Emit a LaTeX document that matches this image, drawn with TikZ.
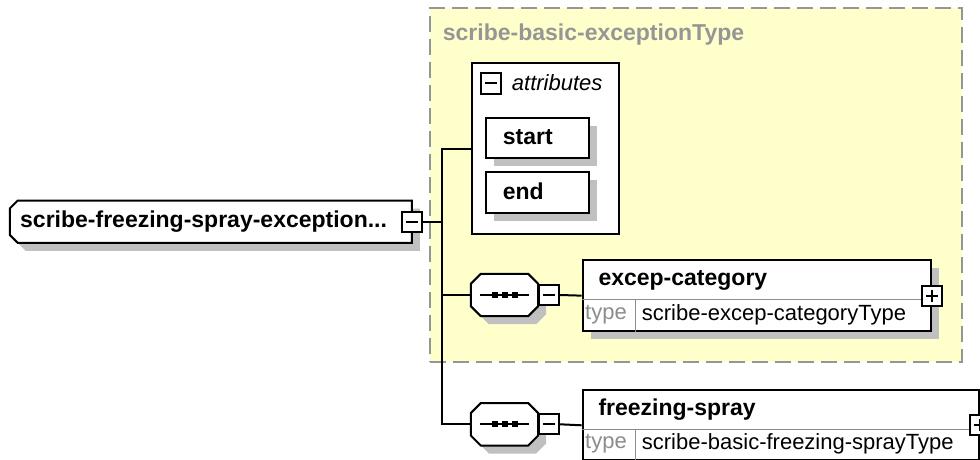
\documentclass[tikz,border=0pt]{standalone}
\usepackage{fontspec}
\setmainfont{Liberation Sans}
\usetikzlibrary{positioning,shadows}
\definecolor{boxfill}{RGB}{255,255,204}
\definecolor{framegray}{RGB}{150,150,150}
\definecolor{typegray}{RGB}{140,140,140}
\definecolor{shadegray}{RGB}{192,192,192}

\begin{document}
\begin{tikzpicture}[x=1pt,y=-1pt,line join=miter,
  wire/.style={line width=2pt},
  shade/.style={drop shadow={shadow xshift=8pt,shadow yshift=-8pt,fill=shadegray,opacity=1}},
  elembox/.style={draw,line width=2pt,fill=white,inner sep=0pt,shade},
  seqbox/.style={inner sep=0pt,minimum width=67pt,minimum height=42pt},
  toggle/.style={draw,fill=white,line width=2pt,minimum size=20pt,inner sep=0pt,path picture={\draw[line width=2pt] ([xshift=4pt]path picture bounding box.west) -- ([xshift=-4pt]path picture bounding box.east);}},
  expand/.style={toggle,path picture={\draw[line width=2pt] ([xshift=4pt]path picture bounding box.west) -- ([xshift=-4pt]path picture bounding box.east) ([yshift=4pt]path picture bounding box.south) -- ([yshift=-4pt]path picture bounding box.north);}},
  boldtext/.style={font=\fontsize{23}{27}\selectfont\bfseries,inner sep=0pt,anchor=west},
  plaintext/.style={font=\fontsize{22}{26}\selectfont,inner sep=0pt,anchor=west},
  typeline/.style={draw=typegray,line width=1.3pt}]
  \useasboundingbox (0,0) rectangle (980,460);
  % complex type frame
  \node[draw=framegray,line width=2pt,dash pattern=on 16pt off 7pt,fill=boxfill,minimum width=532pt,minimum height=354pt,anchor=north west] (basictype) at (429,7) {};
  \node[boldtext,text=framegray] (basictitle) at (442.7,35) {scribe-basic-exceptionType};
  % root element
  \node[inner sep=0pt,minimum width=401.7pt,minimum height=42pt] (root) at (210.85,221.7) {};
  \draw[wire,fill=white,shade] ([xshift=8pt]root.north west) -- (root.north east) -- (root.south east)
    -- ([xshift=8pt]root.south west) -- ([yshift=8pt]root.south west) -- ([yshift=-8pt]root.north west) -- cycle;
  \node[boldtext] (rootname) at (20,222) {scribe-freezing-spray-exception...};
  \node[toggle] (rootminus) at (411.7,221.7) {};
  % attributes
  \node[draw,line width=2pt,fill=white,minimum width=146.7pt,minimum height=171pt,anchor=north west] (attrs) at (471,62.3) {};
  \node[toggle] (attrsminus) at (491,83.5) {};
  \node[plaintext,font=\fontsize{22}{26}\selectfont\itshape] (attrslabel) at (511.7,83) {attributes};
  \node[elembox,minimum width=102.7pt,minimum height=40.6pt,anchor=north west] (startattr) at (485,116.7) {};
  \node[boldtext] (startname) at (502.7,137) {start};
  \node[elembox,minimum width=102.7pt,minimum height=40.6pt,anchor=north west] (endattr) at (485,171) {};
  \node[boldtext] (endname) at (502.7,191.3) {end};
  % sequences
  \node[seqbox] (seqexcep) at (504.5,295) {};
  \node[seqbox] (seqfreeze) at (504.5,424.3) {};
  \foreach \s in {seqexcep,seqfreeze} {
    \draw[wire,fill=white,shade] ([xshift=10pt]\s.north west) -- ([xshift=-10pt]\s.north east)
      -- ([yshift=-10pt]\s.north east) -- ([yshift=10pt]\s.south east) -- ([xshift=-10pt]\s.south east)
      -- ([xshift=10pt]\s.south west) -- ([yshift=10pt]\s.south west) -- ([yshift=-10pt]\s.north west) -- cycle;
    \draw[wire] ([xshift=9pt]\s.west) -- ([xshift=-9pt]\s.east);
    \foreach \dx in {-10,0,10}
      \fill ([xshift=\dx pt]\s.center) +(-3pt,-3pt) rectangle +(3pt,3pt);
  }
  \node[toggle] (seqexcepminus) at (549,295) {};
  \node[toggle] (seqfreezeminus) at (549,424.3) {};
  % child elements
  \node[elembox,minimum width=348.3pt,minimum height=70.7pt,anchor=north west] (excep) at (581.7,259.3) {};
  \draw[typeline] ([yshift=-40pt]excep.north west) -- ([yshift=-40pt]excep.north east);
  \draw[typeline] ([xshift=54pt,yshift=-40pt]excep.north west) -- ([xshift=54pt]excep.south west);
  \node[boldtext] (excepname) at (598.3,280) {excep-category};
  \node[plaintext,text=typegray] (exceptypelabel) at (585,315) {type};
  \node[plaintext] (exceptype) at (641.7,315) {scribe-excep-categoryType};
  \node[expand] (excepplus) at (excep.east) {};
  \node[elembox,minimum width=396pt,minimum height=70pt,anchor=north west] (freeze) at (581.7,389.3) {};
  \draw[typeline] ([yshift=-40pt]freeze.north west) -- ([yshift=-40pt]freeze.north east);
  \draw[typeline] ([xshift=54pt,yshift=-40pt]freeze.north west) -- ([xshift=54pt]freeze.south west);
  \node[boldtext] (freezename) at (598.3,410) {freezing-spray};
  \node[plaintext,text=typegray] (freezetypelabel) at (585,444) {type};
  \node[plaintext] (freezetype) at (641.7,444) {scribe-basic-freezing-sprayType};
  \node[expand] (freezeplus) at (freeze.east) {};
  % connectors
  \coordinate (trunk) at (441.5,221.7);
  \draw[wire] (rootminus.east) -- (trunk);
  \draw[wire] (attrs.west) -| (trunk) |- (seqexcep.west);
  \draw[wire] (trunk) |- (seqfreeze.west);
  \draw[wire] (seqexcepminus.east) -- (excep.west);
  \draw[wire] (seqfreezeminus.east) -- (freeze.west);
\end{tikzpicture}
\end{document}
